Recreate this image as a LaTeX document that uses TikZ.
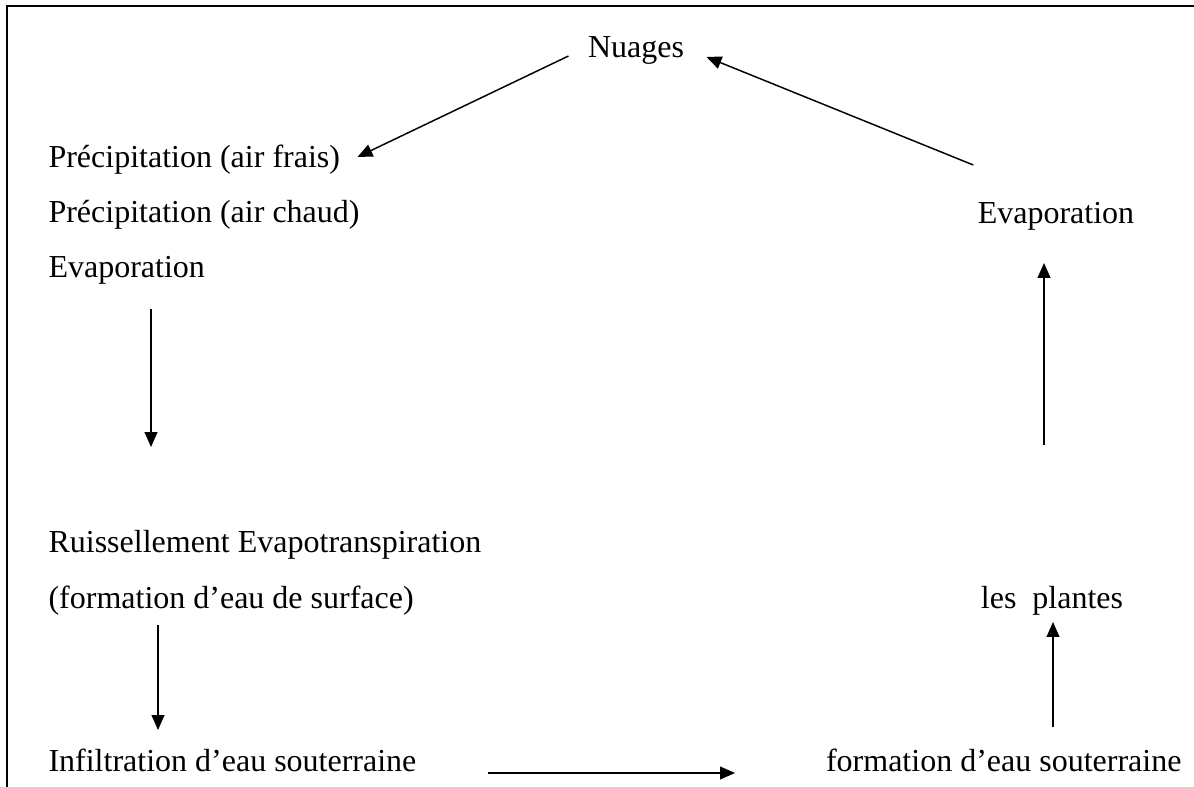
\documentclass[tikz,border=0pt]{standalone}
\usepackage{fontspec}
\setmainfont{Liberation Serif}
\usepackage{tikz}
\usetikzlibrary{arrows.meta, calc}

\begin{document}
\begin{tikzpicture}[
    x=0.375pt, y=-0.375pt,
    txt/.style={inner sep=0pt, font=\fontsize{12}{14}\selectfont},
    arrow/.style={-{Triangle[length=5.6pt, width=4.8pt]}, line width=0.55pt},
    frame/.style={line width=0.8pt}
]
\useasboundingbox (0,0) rectangle (1194,787);

% Frame (left and top only)
\draw[frame] (7,787) -- (7,6) -- (1194,6);

% Left column
\node[txt, anchor=base] (nuages) at (636,58) {Nuages};
\node[txt, anchor=base west] (frais) at (48,168) {Précipitation (air frais)};
\node[txt, anchor=base west] (chaud) at (48,223) {Précipitation (air chaud)};
\node[txt, anchor=base west] (evapL) at (48,278) {Evaporation};
\node[txt, anchor=base west] (ruis) at (48,553) {Ruissellement Evapotranspiration};
\node[txt, anchor=base west] (surf) at (48,609) {(formation d’eau de surface)};
\node[txt, anchor=base west] (infil) at (48,771) {Infiltration d’eau souterraine};

% Right column
\node[txt, anchor=base] (evapR) at (1056,224) {Evaporation};
\node[txt, anchor=base] (plantes) at (1052,609) {les\ \ plantes};
\node[txt, anchor=base east] (formsout) at (1182,771) {formation d’eau souterraine};

% Connectors
\draw[arrow] ($(nuages.base west)+(-19,-2)$) -- ($(frais.base east)+(17,-11)$);
\draw[arrow] ($(evapR.base west)+(-4,-59)$) -- ($(nuages.base east)+(22,-1)$);
\draw[arrow] ($(evapL.base west)+(103,31)$) -- ($(ruis.base west)+(103,-106)$);
\draw[arrow] ($(surf.base west)+(110,16)$) -- ($(infil.base west)+(110,-41)$);
\draw[arrow] ($(infil.base west)+(440,2)$) -- ($(formsout.base east)+(-447,2)$);
\draw[arrow] ($(plantes.base)+(-8,-164)$) -- ($(evapR.base)+(-12,39)$);
\draw[arrow] ($(formsout.base east)+(-129,-44)$) -- ($(plantes.base)+(1,13)$);

\end{tikzpicture}
\end{document}
